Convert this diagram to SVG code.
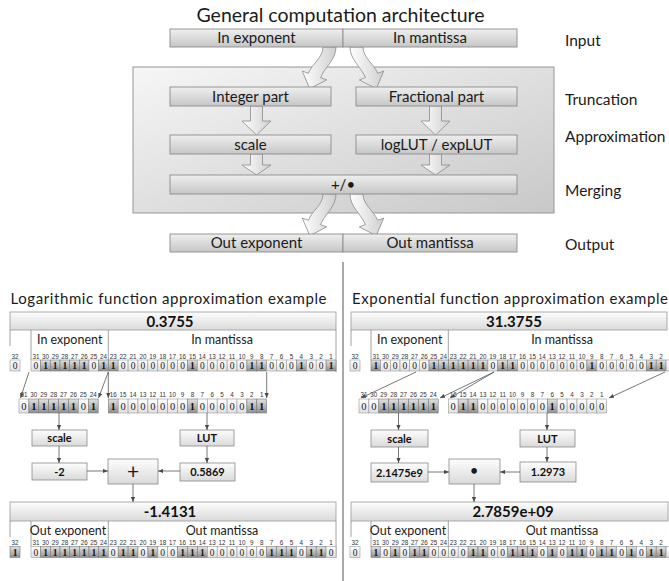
<svg xmlns="http://www.w3.org/2000/svg" width="669" height="581" viewBox="0 0 669 581">
<defs>
<linearGradient id="gBar" x1="0" y1="0" x2="0" y2="1"><stop offset="0" stop-color="#efefef"/><stop offset="1" stop-color="#c6c6c6"/></linearGradient>
<linearGradient id="gCont" x1="0" y1="0" x2="1" y2="1"><stop offset="0" stop-color="#f6f6f6"/><stop offset="1" stop-color="#c8c8c8"/></linearGradient>
<linearGradient id="gArr" x1="0" y1="0" x2="1" y2="0"><stop offset="0" stop-color="#ffffff"/><stop offset="1" stop-color="#cfcfcf"/></linearGradient>
<linearGradient id="gBox" x1="0" y1="0" x2="0" y2="1"><stop offset="0" stop-color="#fdfdfd"/><stop offset="1" stop-color="#dadada"/></linearGradient>
<linearGradient id="gz" x1="0" y1="0" x2="0" y2="1"><stop offset="0" stop-color="#ffffff"/><stop offset="1" stop-color="#e0e0e0"/></linearGradient>
<linearGradient id="go" x1="0" y1="0" x2="0" y2="1"><stop offset="0" stop-color="#e2e2e2"/><stop offset="1" stop-color="#8f8f8f"/></linearGradient>
<marker id="ah" viewBox="0 0 6 6" refX="6" refY="3" markerWidth="5" markerHeight="5" markerUnits="userSpaceOnUse" orient="auto"><path d="M0,0.5L6,3L0,5.5z" fill="#4a4a4a"/></marker>
</defs>
<style>
.f{font-family:Lato,"Liberation Sans",sans-serif;fill:#1b1b1b}
.tl{font-size:15px;text-anchor:middle}
.rl{font-size:15.5px}
.bar{fill:url(#gBar);stroke:#8c8c8c;stroke-width:.9}
.blk{fill:url(#gArr);stroke:#8a8a8a;stroke-width:.8}
.z{fill:url(#gz);stroke:#9a9a9a;stroke-width:.6}
.o{fill:url(#go);stroke:#7a7a7a;stroke-width:.6}
.d0{font-family:"Liberation Serif",serif;font-size:9.5px;text-anchor:middle;fill:#222}
.d1{font-family:"Liberation Serif",serif;font-size:9.5px;text-anchor:middle;fill:#111;font-weight:bold}
.D0{font-family:"Liberation Serif",serif;font-size:10.5px;text-anchor:middle;fill:#222}
.D1{font-family:"Liberation Serif",serif;font-size:10.5px;text-anchor:middle;fill:#111;font-weight:bold}
.n{font-family:"Liberation Sans",sans-serif;font-size:6.3px;text-anchor:middle;fill:#333}
.hd{fill:url(#gBox);stroke:#9a9a9a;stroke-width:.8}
.ht{font-family:Lato,"Liberation Sans",sans-serif;font-weight:bold;font-size:15px;text-anchor:middle;fill:#111}
.fl{font-family:Lato,"Liberation Sans",sans-serif;font-size:12.5px;text-anchor:middle;fill:#1b1b1b}
.vb{fill:url(#gBox);stroke:#8a8a8a;stroke-width:.8}
.vt{font-family:Lato,"Liberation Sans",sans-serif;font-weight:bold;font-size:11px;text-anchor:middle;fill:#111}
.fr{stroke:#8a8a8a;stroke-width:.8;fill:none}
.cn{stroke:#555;stroke-width:.8;fill:none;marker-end:url(#ah)}
</style>
<rect width="669" height="581" fill="#ffffff"/>

<!-- ===== General architecture ===== -->
<text id="title" class="f" x="340.5" y="21.5" font-size="19.5" text-anchor="middle">General computation architecture</text>
<g id="container"><rect x="133" y="67" width="421" height="146" fill="url(#gCont)" stroke="#8c8c8c" stroke-width=".9"/></g>

<g id="arch-connectors">
<path class="blk" d="M323,47 C323,58 311.8,63.9 308.4,73.3 L302.3,71.1 L309.7,88.7 L326.7,79.9 L320.6,77.7 C324.3,67.4 336,60 336,47 Z"/>
<path class="blk" d="M363,47 C363,58 374.2,63.9 377.6,73.3 L383.7,71.1 L376.3,88.7 L359.3,79.9 L365.4,77.7 C361.7,67.4 350,60 350,47 Z"/>
<path class="blk" d="M250.5,106 H262.5 V121 H271 L256.5,135 L242,121 H250.5 Z"/>
<path class="blk" d="M429.5,106 H441.5 V121 H450 L435.5,135 L421,121 H429.5 Z"/>
<path class="blk" d="M250.5,154 H262.5 V165 H271 L256.5,175 L242,165 H250.5 Z"/>
<path class="blk" d="M429.5,154 H441.5 V165 H450 L435.5,175 L421,165 H429.5 Z"/>
<path class="blk" transform="translate(0,147)" d="M323,47 C323,58 311.8,63.9 308.4,73.3 L302.3,71.1 L309.7,88.7 L326.7,79.9 L320.6,77.7 C324.3,67.4 336,60 336,47 Z"/>
<path class="blk" transform="translate(0,147)" d="M363,47 C363,58 374.2,63.9 377.6,73.3 L383.7,71.1 L376.3,88.7 L359.3,79.9 L365.4,77.7 C361.7,67.4 350,60 350,47 Z"/>
</g>

<g id="in-exponent"><rect class="bar" x="170" y="29" width="173" height="18"/><text class="f tl" x="256.5" y="43">In exponent</text></g>
<g id="in-mantissa"><rect class="bar" x="343" y="29" width="174" height="18"/><text class="f tl" x="430" y="43">In mantissa</text></g>
<g id="integer-part"><rect class="bar" x="170" y="87" width="161" height="19"/><text class="f tl" x="250.5" y="101.5">Integer part</text></g>
<g id="fractional-part"><rect class="bar" x="356" y="87" width="161" height="19"/><text class="f tl" x="436.5" y="101.5">Fractional part</text></g>
<g id="scale-top"><rect class="bar" x="170" y="135" width="161" height="19"/><text class="f tl" x="250.5" y="149.5">scale</text></g>
<g id="lut-top"><rect class="bar" x="356" y="135" width="161" height="19"/><text class="f tl" x="436.5" y="149.5">logLUT / expLUT</text></g>
<g id="merge"><rect class="bar" x="170" y="175" width="347" height="19"/><text class="f tl" x="343" y="189.5">+/•</text></g>
<g id="out-exponent"><rect class="bar" x="170" y="234" width="173" height="18"/><text class="f tl" x="256.5" y="248">Out exponent</text></g>
<g id="out-mantissa"><rect class="bar" x="343" y="234" width="174" height="18"/><text class="f tl" x="430" y="248">Out mantissa</text></g>

<g id="stage-labels" class="f rl">
<text x="565" y="46">Input</text>
<text x="565" y="105">Truncation</text>
<text x="565" y="142">Approximation</text>
<text x="565" y="196">Merging</text>
<text x="565" y="250">Output</text>
</g>

<line id="divider" x1="343" y1="262" x2="343" y2="581" stroke="#555" stroke-width="1"/>

<!-- ===== Logarithmic example ===== -->
<g id="log-example">
<text class="f" x="168.5" y="304" font-size="15" text-anchor="middle" textLength="316">Logarithmic function approximation example</text>
<g id="log-input">
<rect class="hd" x="10" y="312" width="326" height="18"/>
<text class="ht" x="170" y="326.5">0.3755</text>
<path class="fr" d="M10,330V346M31,330V360M108.3,330V360M336,330V372"/>
<text class="fl" x="69.7" y="344">In exponent</text>
<text class="fl" x="222" y="344">In mantissa</text>
<text class="n" y="358.5"><tspan x="15">32</tspan><tspan x="35.9">31</tspan><tspan x="45.5">30</tspan><tspan x="55.2">29</tspan><tspan x="64.8">28</tspan><tspan x="74.5">27</tspan><tspan x="84.2">26</tspan><tspan x="93.8">25</tspan><tspan x="103.5">24</tspan><tspan x="113.2">23</tspan><tspan x="123.1">22</tspan><tspan x="133">21</tspan><tspan x="142.9">20</tspan><tspan x="152.8">19</tspan><tspan x="162.7">18</tspan><tspan x="172.6">17</tspan><tspan x="182.5">16</tspan><tspan x="192.4">15</tspan><tspan x="202.3">14</tspan><tspan x="212.2">13</tspan><tspan x="222.1">12</tspan><tspan x="232">11</tspan><tspan x="241.9">10</tspan><tspan x="251.8">9</tspan><tspan x="261.7">8</tspan><tspan x="271.6">7</tspan><tspan x="281.5">6</tspan><tspan x="291.4">5</tspan><tspan x="301.3">4</tspan><tspan x="311.2">3</tspan><tspan x="321.1">2</tspan><tspan x="331">1</tspan></text>
<g transform="translate(0,360)">
<rect class="z" x="10" width="10" height="11"/>
<rect class="z" x="31" width="9.7" height="11"/><rect class="o" x="40.7" width="9.7" height="11"/><rect class="o" x="50.3" width="9.7" height="11"/><rect class="o" x="60" width="9.7" height="11"/><rect class="o" x="69.6" width="9.7" height="11"/><rect class="o" x="79.3" width="9.7" height="11"/><rect class="z" x="89" width="9.7" height="11"/><rect class="o" x="98.6" width="9.7" height="11"/>
<rect class="o" x="108.3" width="9.9" height="11"/><rect class="z" x="118.2" width="9.9" height="11"/><rect class="z" x="128.1" width="9.9" height="11"/><rect class="z" x="138" width="9.9" height="11"/><rect class="z" x="147.9" width="9.9" height="11"/><rect class="z" x="157.8" width="9.9" height="11"/><rect class="z" x="167.7" width="9.9" height="11"/><rect class="z" x="177.6" width="9.9" height="11"/><rect class="o" x="187.5" width="9.9" height="11"/><rect class="z" x="197.4" width="9.9" height="11"/><rect class="z" x="207.3" width="9.9" height="11"/><rect class="z" x="217.2" width="9.9" height="11"/><rect class="z" x="227.1" width="9.9" height="11"/><rect class="z" x="237" width="9.9" height="11"/><rect class="o" x="246.9" width="9.9" height="11"/><rect class="o" x="256.8" width="9.9" height="11"/><rect class="z" x="266.7" width="9.9" height="11"/><rect class="z" x="276.6" width="9.9" height="11"/><rect class="z" x="286.5" width="9.9" height="11"/><rect class="o" x="296.4" width="9.9" height="11"/><rect class="z" x="306.3" width="9.9" height="11"/><rect class="z" x="316.2" width="9.9" height="11"/><rect class="o" x="326.1" width="9.9" height="11"/>
<text class="d1" y="9" x="45.5 55.2 64.8 74.5 84.2 103.5 113.2 192.4 251.8 261.7 301.3 331">111111111111</text>
<text class="d0" y="9" x="15 35.9 93.8 123.1 133 142.9 152.8 162.7 172.6 182.5 202.3 212.2 222.1 232 241.9 271.6 281.5 291.4 311.2 321.1">00000000000000000000</text>
</g>
</g>
<g id="log-truncated">
<text class="n" y="397"><tspan x="23.95">31</tspan><tspan x="33.85">30</tspan><tspan x="43.75">29</tspan><tspan x="53.65">28</tspan><tspan x="63.55">27</tspan><tspan x="73.45">26</tspan><tspan x="83.35">25</tspan><tspan x="93.25">24</tspan><tspan x="113.2">16</tspan><tspan x="123.1">15</tspan><tspan x="133">14</tspan><tspan x="142.9">13</tspan><tspan x="152.8">12</tspan><tspan x="162.7">11</tspan><tspan x="172.6">10</tspan><tspan x="182.5">9</tspan><tspan x="192.4">8</tspan><tspan x="202.3">7</tspan><tspan x="212.2">6</tspan><tspan x="222.1">5</tspan><tspan x="232">4</tspan><tspan x="241.9">3</tspan><tspan x="251.8">2</tspan><tspan x="261.7">1</tspan></text>
<g transform="translate(0,399)">
<rect class="z" x="19" width="9.9" height="14"/><rect class="o" x="28.9" width="9.9" height="14"/><rect class="o" x="38.8" width="9.9" height="14"/><rect class="o" x="48.7" width="9.9" height="14"/><rect class="o" x="58.6" width="9.9" height="14"/><rect class="o" x="68.5" width="9.9" height="14"/><rect class="z" x="78.4" width="9.9" height="14"/><rect class="o" x="88.3" width="9.9" height="14"/>
<rect class="o" x="108.3" width="9.9" height="14"/><rect class="z" x="118.2" width="9.9" height="14"/><rect class="z" x="128.1" width="9.9" height="14"/><rect class="z" x="138" width="9.9" height="14"/><rect class="z" x="147.9" width="9.9" height="14"/><rect class="z" x="157.8" width="9.9" height="14"/><rect class="z" x="167.7" width="9.9" height="14"/><rect class="z" x="177.6" width="9.9" height="14"/><rect class="o" x="187.5" width="9.9" height="14"/><rect class="z" x="197.4" width="9.9" height="14"/><rect class="z" x="207.3" width="9.9" height="14"/><rect class="z" x="217.2" width="9.9" height="14"/><rect class="z" x="227.1" width="9.9" height="14"/><rect class="z" x="237" width="9.9" height="14"/><rect class="o" x="246.9" width="9.9" height="14"/><rect class="o" x="256.8" width="9.9" height="14"/>
<text class="D1" y="10.8" x="33.85 43.75 53.65 63.55 73.45 93.25 113.2 192.4 251.8 261.7">1111111111</text>
<text class="D0" y="10.8" x="23.95 83.35 123.1 133 142.9 152.8 162.7 172.6 182.5 202.3 212.2 222.1 232 241.9">00000000000000</text>
</g>
</g>
<g id="log-scale"><rect class="vb" x="32" y="430" width="55" height="16"/><text class="vt" x="59.5" y="442">scale</text></g>
<g id="log-lut"><rect class="vb" x="180" y="430" width="54" height="16"/><text class="vt" x="207" y="442">LUT</text></g>
<g id="log-exp-value"><rect class="vb" x="32" y="463" width="55" height="17"/><text class="vt" x="59.5" y="475.5">-2</text></g>
<g id="log-add"><rect class="vb" x="108" y="459" width="50" height="25"/><text class="f" x="133" y="478.5" font-size="21" text-anchor="middle">+</text></g>
<g id="log-lut-value"><rect class="vb" x="180" y="463" width="55" height="18"/><text class="vt" x="207.5" y="476">0.5869</text></g>
<g id="log-output">
<rect class="hd" x="10" y="502" width="326" height="19"/>
<text class="ht" x="170" y="517">-1.4131</text>
<path class="fr" d="M10,521V537M31,521V546M108.3,521V546M336,521V558"/>
<text class="fl" x="68" y="534.5">Out exponent</text>
<text class="fl" x="222" y="534.5">Out mantissa</text>
<text class="n" y="545"><tspan x="15">32</tspan><tspan x="35.9">31</tspan><tspan x="45.5">30</tspan><tspan x="55.2">29</tspan><tspan x="64.8">28</tspan><tspan x="74.5">27</tspan><tspan x="84.2">26</tspan><tspan x="93.8">25</tspan><tspan x="103.5">24</tspan><tspan x="113.2">23</tspan><tspan x="123.1">22</tspan><tspan x="133">21</tspan><tspan x="142.9">20</tspan><tspan x="152.8">19</tspan><tspan x="162.7">18</tspan><tspan x="172.6">17</tspan><tspan x="182.5">16</tspan><tspan x="192.4">15</tspan><tspan x="202.3">14</tspan><tspan x="212.2">13</tspan><tspan x="222.1">12</tspan><tspan x="232">11</tspan><tspan x="241.9">10</tspan><tspan x="251.8">9</tspan><tspan x="261.7">8</tspan><tspan x="271.6">7</tspan><tspan x="281.5">6</tspan><tspan x="291.4">5</tspan><tspan x="301.3">4</tspan><tspan x="311.2">3</tspan><tspan x="321.1">2</tspan><tspan x="331">1</tspan></text>
<g transform="translate(0,546.5)">
<rect class="o" x="10" width="10" height="11"/>
<rect class="z" x="31" width="9.7" height="11"/><rect class="o" x="40.7" width="9.7" height="11"/><rect class="o" x="50.3" width="9.7" height="11"/><rect class="o" x="60" width="9.7" height="11"/><rect class="o" x="69.6" width="9.7" height="11"/><rect class="o" x="79.3" width="9.7" height="11"/><rect class="o" x="89" width="9.7" height="11"/><rect class="o" x="98.6" width="9.7" height="11"/>
<rect class="z" x="108.3" width="9.9" height="11"/><rect class="o" x="118.2" width="9.9" height="11"/><rect class="o" x="128.1" width="9.9" height="11"/><rect class="z" x="138" width="9.9" height="11"/><rect class="o" x="147.9" width="9.9" height="11"/><rect class="z" x="157.8" width="9.9" height="11"/><rect class="z" x="167.7" width="9.9" height="11"/><rect class="o" x="177.6" width="9.9" height="11"/><rect class="o" x="187.5" width="9.9" height="11"/><rect class="o" x="197.4" width="9.9" height="11"/><rect class="z" x="207.3" width="9.9" height="11"/><rect class="z" x="217.2" width="9.9" height="11"/><rect class="z" x="227.1" width="9.9" height="11"/><rect class="z" x="237" width="9.9" height="11"/><rect class="z" x="246.9" width="9.9" height="11"/><rect class="z" x="256.8" width="9.9" height="11"/><rect class="o" x="266.7" width="9.9" height="11"/><rect class="o" x="276.6" width="9.9" height="11"/><rect class="o" x="286.5" width="9.9" height="11"/><rect class="z" x="296.4" width="9.9" height="11"/><rect class="o" x="306.3" width="9.9" height="11"/><rect class="o" x="316.2" width="9.9" height="11"/><rect class="z" x="326.1" width="9.9" height="11"/>
<text class="d1" y="9" x="15 45.5 55.2 64.8 74.5 84.2 93.8 103.5 123.1 133 152.8 182.5 192.4 202.3 271.6 281.5 291.4 311.2 321.1">1111111111111111111</text>
<text class="d0" y="9" x="35.9 113.2 142.9 162.7 172.6 212.2 222.1 232 241.9 251.8 261.7 301.3 331">0000000000000</text>
</g>
</g>
<g id="log-connectors">
<path class="cn" d="M29,372L20.5,398"/>
<path class="cn" d="M108.3,372L98.5,398"/>
<path class="cn" d="M108.3,372V398"/>
<path class="cn" d="M266.7,372V398"/>
<path class="cn" d="M59,413V430"/>
<path class="cn" d="M207,413V430"/>
<path class="cn" d="M59,446V463"/>
<path class="cn" d="M207,446V463"/>
<path class="cn" d="M87,471H108"/>
<path class="cn" d="M180,471H158"/>
<path class="cn" d="M133,484V502"/>
</g>
</g>

<!-- ===== Exponential example ===== -->
<g id="exp-example" transform="translate(340,0)">
<text class="f" x="170" y="304" font-size="15" text-anchor="middle" textLength="316">Exponential function approximation example</text>
<g id="exp-input">
<rect class="hd" x="11" y="312" width="316" height="18"/>
<text class="ht" x="174" y="326.5">31.3755</text>
<path class="fr" d="M11,330V346M31,330V360M108.3,330V360"/>
<text class="fl" x="69.7" y="344">In exponent</text>
<text class="fl" x="222" y="344">In mantissa</text>
<text class="n" y="358.5"><tspan x="15">32</tspan><tspan x="35.9">31</tspan><tspan x="45.5">30</tspan><tspan x="55.2">29</tspan><tspan x="64.8">28</tspan><tspan x="74.5">27</tspan><tspan x="84.2">26</tspan><tspan x="93.8">25</tspan><tspan x="103.5">24</tspan><tspan x="113.2">23</tspan><tspan x="123.1">22</tspan><tspan x="133">21</tspan><tspan x="142.9">20</tspan><tspan x="152.8">19</tspan><tspan x="162.7">18</tspan><tspan x="172.6">17</tspan><tspan x="182.5">16</tspan><tspan x="192.4">15</tspan><tspan x="202.3">14</tspan><tspan x="212.2">13</tspan><tspan x="222.1">12</tspan><tspan x="232">11</tspan><tspan x="241.9">10</tspan><tspan x="251.8">9</tspan><tspan x="261.7">8</tspan><tspan x="271.6">7</tspan><tspan x="281.5">6</tspan><tspan x="291.4">5</tspan><tspan x="301.3">4</tspan><tspan x="311.2">3</tspan><tspan x="321.1">2</tspan></text>
<g transform="translate(0,360)">
<rect class="z" x="10" width="10" height="11"/>
<rect class="o" x="31" width="9.7" height="11"/><rect class="z" x="40.7" width="9.7" height="11"/><rect class="z" x="50.3" width="9.7" height="11"/><rect class="z" x="60" width="9.7" height="11"/><rect class="z" x="69.6" width="9.7" height="11"/><rect class="z" x="79.3" width="9.7" height="11"/><rect class="o" x="89" width="9.7" height="11"/><rect class="o" x="98.6" width="9.7" height="11"/>
<rect class="o" x="108.3" width="9.9" height="11"/><rect class="o" x="118.2" width="9.9" height="11"/><rect class="o" x="128.1" width="9.9" height="11"/><rect class="o" x="138" width="9.9" height="11"/><rect class="z" x="147.9" width="9.9" height="11"/><rect class="o" x="157.8" width="9.9" height="11"/><rect class="o" x="167.7" width="9.9" height="11"/><rect class="z" x="177.6" width="9.9" height="11"/><rect class="z" x="187.5" width="9.9" height="11"/><rect class="z" x="197.4" width="9.9" height="11"/><rect class="z" x="207.3" width="9.9" height="11"/><rect class="z" x="217.2" width="9.9" height="11"/><rect class="z" x="227.1" width="9.9" height="11"/><rect class="z" x="237" width="9.9" height="11"/><rect class="o" x="246.9" width="9.9" height="11"/><rect class="z" x="256.8" width="9.9" height="11"/><rect class="z" x="266.7" width="9.9" height="11"/><rect class="z" x="276.6" width="9.9" height="11"/><rect class="z" x="286.5" width="9.9" height="11"/><rect class="z" x="296.4" width="9.9" height="11"/><rect class="o" x="306.3" width="9.9" height="11"/><rect class="o" x="316.2" width="9.9" height="11"/><rect class="z" x="326.1" width="9.9" height="11"/>
<text class="d1" y="9" x="35.9 93.8 103.5 113.2 123.1 133 142.9 162.7 172.6 251.8 311.2 321.1">111111111111</text>
<text class="d0" y="9" x="15 45.5 55.2 64.8 74.5 84.2 152.8 182.5 192.4 202.3 212.2 222.1 232 241.9 261.7 271.6 281.5 291.4 301.3">0000000000000000000</text>
</g>
</g>
<g id="exp-truncated">
<text class="n" y="397"><tspan x="23.95">31</tspan><tspan x="33.85">30</tspan><tspan x="43.75">29</tspan><tspan x="53.65">28</tspan><tspan x="63.55">27</tspan><tspan x="73.45">26</tspan><tspan x="83.35">25</tspan><tspan x="93.25">24</tspan><tspan x="113.2">16</tspan><tspan x="123.1">15</tspan><tspan x="133">14</tspan><tspan x="142.9">13</tspan><tspan x="152.8">12</tspan><tspan x="162.7">11</tspan><tspan x="172.6">10</tspan><tspan x="182.5">9</tspan><tspan x="192.4">8</tspan><tspan x="202.3">7</tspan><tspan x="212.2">6</tspan><tspan x="222.1">5</tspan><tspan x="232">4</tspan><tspan x="241.9">3</tspan><tspan x="251.8">2</tspan><tspan x="261.7">1</tspan></text>
<g transform="translate(0,399)">
<rect class="z" x="19" width="9.9" height="14"/><rect class="z" x="28.9" width="9.9" height="14"/><rect class="o" x="38.8" width="9.9" height="14"/><rect class="o" x="48.7" width="9.9" height="14"/><rect class="o" x="58.6" width="9.9" height="14"/><rect class="o" x="68.5" width="9.9" height="14"/><rect class="o" x="78.4" width="9.9" height="14"/><rect class="o" x="88.3" width="9.9" height="14"/>
<rect class="z" x="108.3" width="9.9" height="14"/><rect class="o" x="118.2" width="9.9" height="14"/><rect class="o" x="128.1" width="9.9" height="14"/><rect class="z" x="138" width="9.9" height="14"/><rect class="z" x="147.9" width="9.9" height="14"/><rect class="z" x="157.8" width="9.9" height="14"/><rect class="z" x="167.7" width="9.9" height="14"/><rect class="z" x="177.6" width="9.9" height="14"/><rect class="z" x="187.5" width="9.9" height="14"/><rect class="z" x="197.4" width="9.9" height="14"/><rect class="o" x="207.3" width="9.9" height="14"/><rect class="z" x="217.2" width="9.9" height="14"/><rect class="z" x="227.1" width="9.9" height="14"/><rect class="z" x="237" width="9.9" height="14"/><rect class="z" x="246.9" width="9.9" height="14"/><rect class="z" x="256.8" width="9.9" height="14"/>
<text class="D1" y="10.8" x="43.75 53.65 63.55 73.45 83.35 93.25 123.1 133 212.2">111111111</text>
<text class="D0" y="10.8" x="23.95 33.85 113.2 142.9 152.8 162.7 172.6 182.5 192.4 202.3 222.1 232 241.9 251.8 261.7">000000000000000</text>
</g>
</g>
<g id="exp-scale"><rect class="vb" x="31" y="430" width="57" height="17"/><text class="vt" x="59.5" y="442.5">scale</text></g>
<g id="exp-lut"><rect class="vb" x="180" y="430" width="55" height="17"/><text class="vt" x="207.5" y="442.5">LUT</text></g>
<g id="exp-exp-value"><rect class="vb" x="31" y="463" width="57" height="19"/><text class="vt" x="59.5" y="476.5">2.1475e9</text></g>
<g id="exp-mul"><rect class="vb" x="109" y="459" width="51" height="25"/><text class="f" x="134" y="476" font-size="15" text-anchor="middle">•</text></g>
<g id="exp-lut-value"><rect class="vb" x="180" y="462" width="56" height="20"/><text class="vt" x="208" y="476">1.2973</text></g>
<g id="exp-output">
<rect class="hd" x="11" y="502" width="317" height="19"/>
<text class="ht" x="173" y="517">2.7859e+09</text>
<path class="fr" d="M11,521V537M31,521V546M108.3,521V546"/>
<text class="fl" x="68" y="534.5">Out exponent</text>
<text class="fl" x="222" y="534.5">Out mantissa</text>
<text class="n" y="545"><tspan x="15">32</tspan><tspan x="35.9">31</tspan><tspan x="45.5">30</tspan><tspan x="55.2">29</tspan><tspan x="64.8">28</tspan><tspan x="74.5">27</tspan><tspan x="84.2">26</tspan><tspan x="93.8">25</tspan><tspan x="103.5">24</tspan><tspan x="113.2">23</tspan><tspan x="123.1">22</tspan><tspan x="133">21</tspan><tspan x="142.9">20</tspan><tspan x="152.8">19</tspan><tspan x="162.7">18</tspan><tspan x="172.6">17</tspan><tspan x="182.5">16</tspan><tspan x="192.4">15</tspan><tspan x="202.3">14</tspan><tspan x="212.2">13</tspan><tspan x="222.1">12</tspan><tspan x="232">11</tspan><tspan x="241.9">10</tspan><tspan x="251.8">9</tspan><tspan x="261.7">8</tspan><tspan x="271.6">7</tspan><tspan x="281.5">6</tspan><tspan x="291.4">5</tspan><tspan x="301.3">4</tspan><tspan x="311.2">3</tspan><tspan x="321.1">2</tspan></text>
<g transform="translate(0,546.5)">
<rect class="z" x="10" width="10" height="11"/>
<rect class="o" x="31" width="9.7" height="11"/><rect class="z" x="40.7" width="9.7" height="11"/><rect class="o" x="50.3" width="9.7" height="11"/><rect class="z" x="60" width="9.7" height="11"/><rect class="o" x="69.6" width="9.7" height="11"/><rect class="o" x="79.3" width="9.7" height="11"/><rect class="z" x="89" width="9.7" height="11"/><rect class="z" x="98.6" width="9.7" height="11"/>
<rect class="z" x="108.3" width="9.9" height="11"/><rect class="z" x="118.2" width="9.9" height="11"/><rect class="o" x="128.1" width="9.9" height="11"/><rect class="o" x="138" width="9.9" height="11"/><rect class="z" x="147.9" width="9.9" height="11"/><rect class="z" x="157.8" width="9.9" height="11"/><rect class="o" x="167.7" width="9.9" height="11"/><rect class="o" x="177.6" width="9.9" height="11"/><rect class="o" x="187.5" width="9.9" height="11"/><rect class="z" x="197.4" width="9.9" height="11"/><rect class="o" x="207.3" width="9.9" height="11"/><rect class="z" x="217.2" width="9.9" height="11"/><rect class="o" x="227.1" width="9.9" height="11"/><rect class="o" x="237" width="9.9" height="11"/><rect class="z" x="246.9" width="9.9" height="11"/><rect class="o" x="256.8" width="9.9" height="11"/><rect class="o" x="266.7" width="9.9" height="11"/><rect class="z" x="276.6" width="9.9" height="11"/><rect class="o" x="286.5" width="9.9" height="11"/><rect class="z" x="296.4" width="9.9" height="11"/><rect class="o" x="306.3" width="9.9" height="11"/><rect class="o" x="316.2" width="9.9" height="11"/><rect class="z" x="326.1" width="9.9" height="11"/>
<text class="d1" y="9" x="35.9 55.2 74.5 84.2 133 142.9 172.6 182.5 192.4 212.2 232 241.9 261.7 271.6 291.4 311.2 321.1">11111111111111111</text>
<text class="d0" y="9" x="15 45.5 64.8 93.8 103.5 113.2 123.1 152.8 162.7 202.3 222.1 251.8 281.5 301.3">00000000000000</text>
</g>
</g>
<g id="exp-connectors">
<path class="cn" d="M76,372L21,398"/>
<path class="cn" d="M154,372L100,398"/>
<path class="cn" d="M154,372L110,398"/>
<path class="cn" d="M325,372L269,398"/>
<path class="cn" d="M58.5,413V430"/>
<path class="cn" d="M207,413V430"/>
<path class="cn" d="M58.5,447V463"/>
<path class="cn" d="M207,447V462"/>
<path class="cn" d="M88,472H109"/>
<path class="cn" d="M180,472H160"/>
<path class="cn" d="M134,484V502"/>
</g>
</g>
</svg>
